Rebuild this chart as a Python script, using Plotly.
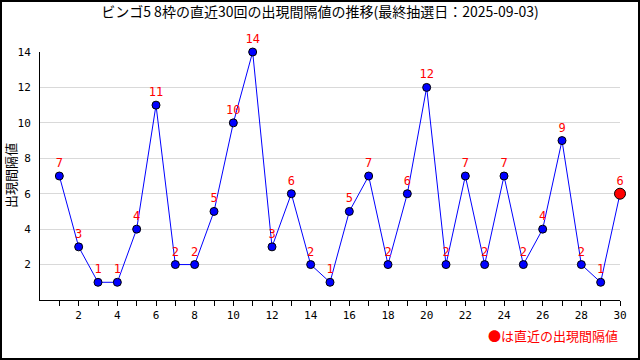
import plotly.graph_objects as go

draws = list(range(1, 31))
intervals = [7, 3, 1, 1, 4, 11, 2, 2, 5, 10, 14, 3, 6, 2, 1, 5, 7, 2, 6, 12, 2, 7, 2, 7, 2, 4, 9, 2, 1, 6]
title_text = "ビンゴ5 8枠の直近30回の出現間隔値の推移(最終抽選日：2025-09-03)"
y_title = "出現間隔値"
note_text = "●は直近の出現間隔値"
x_ticks = list(range(2, 31, 2))
y_ticks = list(range(2, 15, 2))

W, H = 640, 360
L, R, T, B = 40, 20, 52, 60
pw, ph = W - L - R, H - T - B

def px(x):
    return (x - L) / pw

def py(y):
    return (H - B - y) / ph

fig = go.Figure()
fig.add_trace(go.Scatter(
    x=draws, y=intervals, mode="lines+markers+text",
    line=dict(color="#0000ff", width=1),
    marker=dict(color="#0000ff", size=8, line=dict(color="#000000", width=1)),
    text=[str(v) for v in intervals], textposition="top center",
    textfont=dict(color="#ff0000", size=12, family="DejaVu Sans Mono"),
    cliponaxis=False, showlegend=False,
))
fig.add_trace(go.Scatter(
    x=[draws[-1]], y=[intervals[-1]], mode="markers",
    marker=dict(color="#ff0000", size=11, line=dict(color="#000000", width=1)),
    cliponaxis=False, showlegend=False,
))

fig.update_layout(
    width=W, height=H,
    margin=dict(l=L, r=R, t=T, b=B, autoexpand=False),
    paper_bgcolor="white", plot_bgcolor="white",
    font=dict(family="Noto Sans CJK JP", color="black", size=11),
    title=dict(text=title_text, x=0.5, xanchor="center", y=1 - 12 / H, yanchor="middle",
               font=dict(size=14, family="Noto Sans CJK JP")),
    xaxis=dict(range=[0, 30], tickvals=x_ticks, ticks="outside", ticklen=5,
               tickcolor="black", showline=True, linecolor="black", linewidth=1,
               showgrid=False, zeroline=False, automargin=False,
               tickfont=dict(family="DejaVu Sans Mono", size=11),
               minor=dict(tickvals=draws, ticks="outside", ticklen=5, tickcolor="black")),
    yaxis=dict(range=[0, 14], tickvals=y_ticks, showline=True, linecolor="black", linewidth=1,
               showgrid=True, gridcolor="#d9d9d9", gridwidth=1, zeroline=False,
               automargin=False, ticks="", ticklabelstandoff=6,
               tickfont=dict(family="DejaVu Sans Mono", size=11)),
    shapes=[dict(type="rect", xref="paper", yref="paper",
                 x0=px(1), x1=px(W - 1), y0=py(H - 1), y1=py(1),
                 line=dict(color="black", width=2), fillcolor="rgba(0,0,0,0)", layer="below")],
    annotations=[
        dict(text=note_text, xref="paper", yref="paper",
             x=px(620), y=py(335), xanchor="right", yanchor="middle",
             showarrow=False, font=dict(color="#ff0000", size=13, family="Noto Sans CJK JP")),
        dict(text=y_title, xref="paper", yref="paper",
             x=px(10), y=py(176), xanchor="center", yanchor="middle", textangle=-90,
             showarrow=False, font=dict(color="black", size=13, family="Noto Sans CJK JP")),
    ],
)

fig.write_html("out.html", config={"displayModeBar": False},
               post_script="document.body.style.margin='0';document.body.style.overflow='hidden';")
